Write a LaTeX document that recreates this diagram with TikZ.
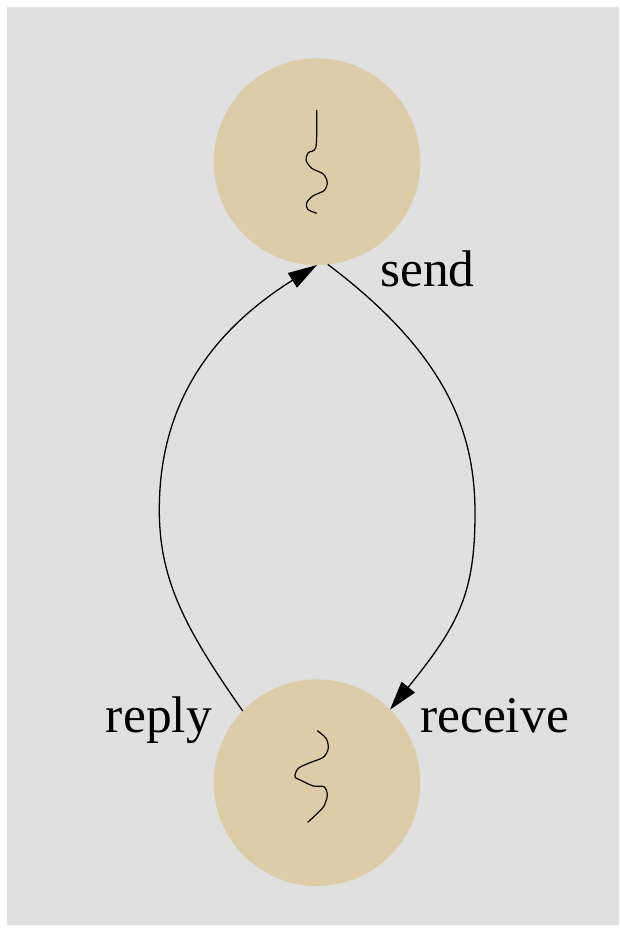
\documentclass[tikz,border=0pt]{standalone}
\usepackage{fontspec}
\setmainfont{Liberation Serif}
\usetikzlibrary{arrows.meta}
\definecolor{bggray}{RGB}{224,224,224}
\definecolor{tan}{RGB}{220,204,168}
\def\topwiggle{plot[smooth] coordinates {(-0.3,51.7) (-1,15) (-8.7,9) (-11,1.7) (-5.3,-6.6) (6.3,-12.3) (10.3,-21) (7,-29) (-3.7,-34) (-10.3,-41) (-9.3,-47.6) (-0.3,-51.6)}}
\def\botwiggle{plot[smooth] coordinates {(0.3,52) (9,44.4) (11.3,34.4) (6.3,25.4) (-7,20) (-18.7,14.4) (-22,6) (-15.3,2) (-3.7,-3.3) (7,-4) (10.3,-12.3) (7,-23.3) (-0.3,-31.3) (-9.3,-39.6)}}
\tikzset{
  state/.style={circle, fill=tan, minimum size=206.6pt, inner sep=0pt, outer sep=0pt},
  edge/.style={line width=1.3pt, -{Triangle[length=29pt,width=17pt]}},
  lbl/.style={font=\fontsize{51.5}{60}\selectfont, inner sep=0pt},
  wiggle/.style={line width=1.2pt}
}

\begin{document}
\begin{tikzpicture}[x=1pt,y=1pt]
                \useasboundingbox (0,0) rectangle (619,932);
                \fill[bggray] (7,7) rectangle (619,925);
                \node[state] (top) at (317,770.3) {};
                \node[state] (bot) at (317,149.3) {};
                \draw[wiggle, shift={(top.center)}] \topwiggle;
                \draw[wiggle, shift={(bot.center)}] \botwiggle;
                \coordinate (sendmid) at (475,419);
                \coordinate (replymid) at (159.3,422);
                \draw[edge] (top.-84) .. controls +(-37:150) and +(90:80) .. (sendmid)
                    .. controls +(-90:80) and +(51:110) .. (bot.45);
                \draw[edge] (bot.136) .. controls +(125:100) and +(-90:70) .. (replymid)
                    .. controls +(90:70) and +(212:160) .. (top.-90);
                \node[lbl, anchor=base west] (send) at (380,645) {send};
                \node[lbl, anchor=base west] (receive) at (420,199) {receive};
                \node[lbl, anchor=base east] (reply) at (212,199) {reply};
            \end{tikzpicture}
\end{document}
